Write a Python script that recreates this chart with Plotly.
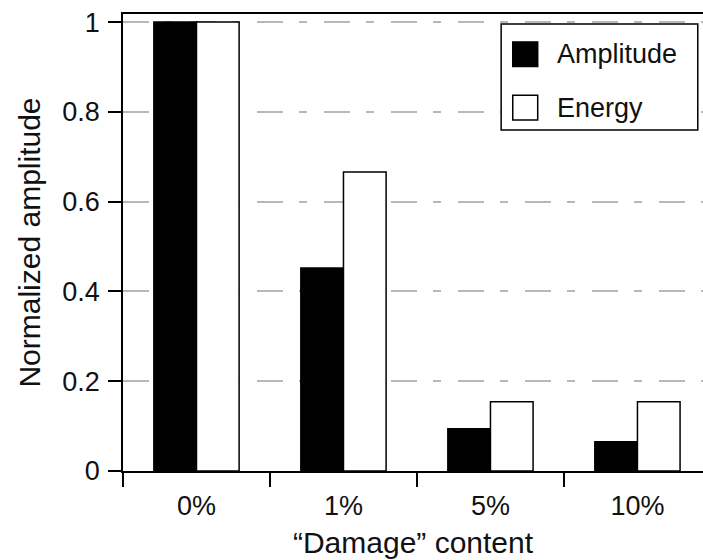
import plotly.graph_objects as go

# Normalized amplitude and energy for each damage level
categories = ["0%", "1%", "5%", "10%"]
amplitude = [1.0, 0.452, 0.094, 0.065]
energy = [1.0, 0.666, 0.154, 0.154]
y_ticks = [0, 0.2, 0.4, 0.6, 0.8, 1]
y_tick_labels = ["0", "0.2", "0.4", "0.6", "0.8", "1"]

FONT = "Liberation Sans, Arial, Helvetica, sans-serif"
TICK_SIZE = 27
TITLE_SIZE = 30

fig = go.Figure()
fig.add_trace(go.Bar(
    x=categories, y=amplitude, name="Amplitude",
    marker=dict(color="black", line=dict(color="black", width=1.5)),
    showlegend=False,
))
fig.add_trace(go.Bar(
    x=categories, y=energy, name="Energy",
    marker=dict(color="white", line=dict(color="black", width=1.5)),
    showlegend=False,
))

# Hand-drawn legend box with square swatches
legend_shapes = [
    dict(type="rect", xref="paper", yref="paper", x0=0.652, x1=0.991, y0=0.746, y1=0.978,
         line=dict(color="black", width=1.5), fillcolor="white", layer="above"),
    dict(type="rect", xref="paper", yref="paper", x0=0.672, x1=0.715, y0=0.885, y1=0.939,
         line=dict(color="black", width=1.5), fillcolor="black", layer="above"),
    dict(type="rect", xref="paper", yref="paper", x0=0.672, x1=0.715, y0=0.768, y1=0.822,
         line=dict(color="black", width=1.5), fillcolor="white", layer="above"),
]
legend_labels = [
    dict(text="Amplitude", xref="paper", yref="paper", x=0.745, y=0.912,
         xanchor="left", yanchor="middle", showarrow=False,
         font=dict(family=FONT, size=TICK_SIZE, color="#111")),
    dict(text="Energy", xref="paper", yref="paper", x=0.745, y=0.795,
         xanchor="left", yanchor="middle", showarrow=False,
         font=dict(family=FONT, size=TICK_SIZE, color="#111")),
]

fig.update_layout(
    width=703, height=560,
    margin=dict(l=123, r=0, t=14, b=89),
    paper_bgcolor="white", plot_bgcolor="white",
    barmode="group", bargap=0.42, bargroupgap=0,
    font=dict(family=FONT, size=TICK_SIZE, color="#111"),
    shapes=legend_shapes,
    annotations=legend_labels,
    xaxis=dict(
        type="category", range=[-0.5, 3.446],
        showline=True, linecolor="black", linewidth=1.5, mirror=True,
        ticks="outside", ticklen=14, tickwidth=1.5, tickcolor="black",
        tickson="boundaries", showgrid=False,
        ticklabelstandoff=10,
        tickfont=dict(size=TICK_SIZE),
        title=dict(text="\u201cDamage\u201d content", font=dict(size=TITLE_SIZE), standoff=12),
    ),
    yaxis=dict(
        range=[0, 1.018],
        tickvals=y_ticks, ticktext=y_tick_labels,
        showline=True, linecolor="black", linewidth=1.5,
        ticks="outside", ticklen=13, tickwidth=1.5, tickcolor="black",
        showgrid=True, gridcolor="#b8b8b8", gridwidth=2,
        griddash="26px,16px,8px,17px",
        zeroline=False,
        ticklabelstandoff=3,
        tickfont=dict(size=TICK_SIZE),
        title=dict(text="Normalized amplitude", font=dict(size=TITLE_SIZE), standoff=13),
    ),
)

fig.write_html("out.html")
